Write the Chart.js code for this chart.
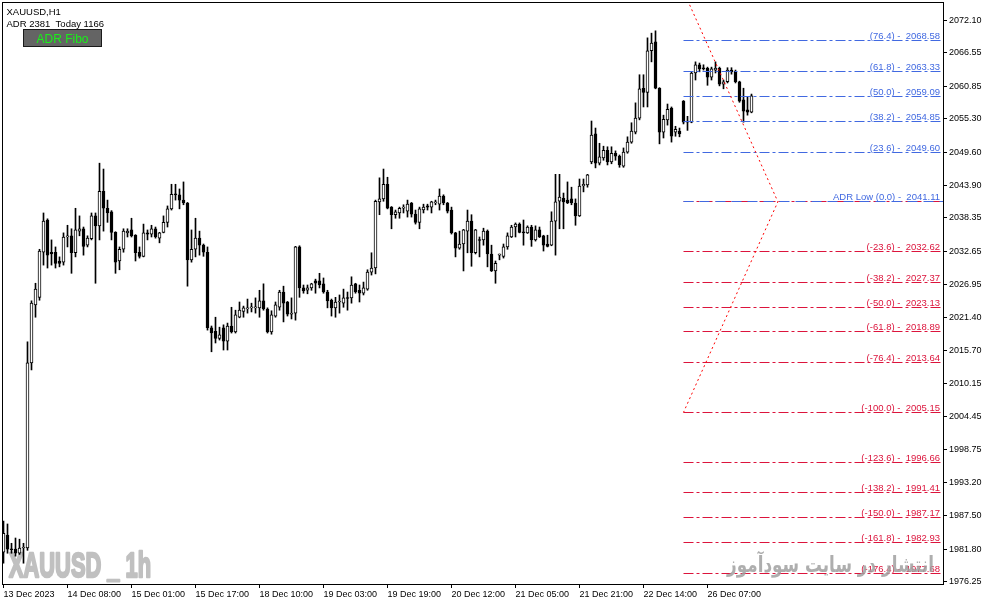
<!DOCTYPE html>
<html>
<head>
<meta charset="utf-8">
<script src="https://cdn.jsdelivr.net/npm/chart.js@4.4.1/dist/chart.umd.min.js"></script>
<style>
  html, body { margin: 0; padding: 0; background: #fff; }
</style>
</head>
<body>
<canvas id="chart" width="987" height="605"></canvas>
<script>
// XAUUSD H1 candles, 13 Dec 2023 15:00 -> 26 Dec 2023 17:00
const opens = [
  1981.3,1984.2,1981.8,1981.8,1981.1,1982.0,1982.0,2013.6,2023.5,2024.8,
  2032.5,2038.0,2032.5,2032.5,2031.0,2030.8,2035.1,2035.3,2032.4,2036.1,
  2036.5,2033.7,2034.8,2038.7,2037.0,2042.9,2040.0,2039.4,2035.9,2031.0,
  2033.0,2035.8,2036.3,2035.4,2032.5,2031.8,2035.8,2035.6,2036.5,2034.9,
  2035.9,2037.6,2039.9,2042.4,2042.3,2041.4,2040.9,2031.2,2033.0,2034.9,
  2033.7,2032.5,2019.6,2019.0,2017.8,2019.6,2017.3,2019.9,2018.9,2021.4,
  2022.4,2022.8,2023.0,2023.0,2023.0,2024.2,2022.8,2018.9,2021.6,2023.1,
  2025.7,2024.0,2021.9,2022.1,2033.4,2026.4,2026.0,2026.4,2027.6,2027.6,
  2027.1,2025.7,2024.3,2023.0,2024.0,2023.8,2024.7,2024.7,2027.1,2026.0,
  2025.5,2026.2,2029.1,2029.8,2041.1,2041.6,2044.1,2040.2,2038.9,2039.2,
  2040.0,2039.5,2040.9,2039.0,2037.6,2039.7,2040.4,2040.2,2040.9,2040.7,
  2042.1,2040.9,2039.7,2035.8,2033.2,2033.9,2036.1,2037.8,2032.4,2034.6,
  2034.6,2036.1,2032.2,2029.3,2032.0,2031.8,2033.4,2035.1,2036.8,2037.3,
  2035.9,2035.8,2036.8,2034.6,2036.3,2035.3,2033.9,2033.7,2037.8,2041.2,
  2041.7,2041.4,2041.6,2040.9,2038.7,2043.8,2044.0,2047.9,2052.7,2047.7,
  2048.6,2049.9,2047.9,2049.4,2048.9,2047.2,2049.6,2051.3,2053.0,2055.4,
  2060.5,2059.8,2066.9,2068.4,2060.5,2053.0,2055.1,2057.1,2053.0,2053.2,
  2058.3,2054.7,2054.7,2063.1,2064.5,2063.9,2063.9,2062.4,2063.6,2063.9,
  2061.2,2061.6,2063.6,2063.4,2061.6,2058.5,2056.8,2056.4
];
const highs = [
  1986.6,1986.1,1982.8,1983.7,1983.5,1982.8,2017.2,2024.2,2027.2,2033.0,
  2039.2,2038.2,2034.6,2033.4,2031.7,2035.8,2037.1,2036.5,2040.0,2038.7,
  2036.8,2035.3,2039.2,2039.2,2047.7,2046.7,2041.4,2039.6,2036.0,2033.4,
  2036.5,2036.5,2038.3,2035.5,2033.4,2037.3,2036.3,2037.1,2036.8,2035.9,
  2038.7,2040.4,2044.1,2044.1,2043.3,2044.5,2041.0,2036.3,2038.3,2036.1,
  2033.9,2033.4,2019.9,2021.4,2019.7,2020.1,2020.4,2023.1,2022.6,2024.0,
  2023.3,2024.5,2023.8,2024.7,2026.0,2027.1,2023.0,2022.5,2024.0,2026.0,
  2026.7,2024.1,2024.7,2033.5,2033.6,2026.9,2026.9,2027.2,2027.9,2028.9,
  2028.1,2026.0,2024.5,2024.8,2025.2,2026.2,2025.7,2028.3,2027.2,2026.9,
  2027.4,2029.5,2032.4,2041.4,2045.2,2046.7,2045.3,2040.3,2039.7,2040.2,
  2040.6,2041.4,2041.0,2039.7,2040.2,2040.7,2040.7,2041.2,2041.4,2043.3,
  2042.3,2041.0,2040.2,2035.9,2036.1,2036.4,2039.7,2038.9,2036.4,2035.1,
  2036.6,2036.3,2033.7,2031.0,2032.2,2033.9,2035.8,2037.1,2037.5,2037.5,
  2038.0,2037.0,2037.1,2037.0,2036.8,2035.4,2035.4,2039.4,2045.8,2045.8,
  2042.6,2044.5,2043.6,2041.6,2045.0,2045.0,2045.8,2054.9,2053.7,2051.1,
  2050.6,2050.5,2050.5,2049.8,2049.1,2050.3,2052.2,2054.6,2058.0,2062.8,
  2062.8,2069.1,2069.9,2070.3,2060.6,2055.9,2057.8,2057.3,2054.0,2053.7,
  2058.4,2055.7,2063.3,2065.0,2064.8,2064.5,2064.1,2064.1,2065.0,2064.1,
  2061.9,2064.0,2064.0,2063.6,2061.7,2060.5,2059.0,2059.5
];
const lows = [
  1979.4,1981.1,1981.1,1980.6,1980.9,1979.4,1981.6,2012.4,2021.4,2024.3,
  2030.3,2029.8,2030.3,2029.8,2030.0,2030.3,2033.4,2028.9,2031.7,2035.3,
  2032.0,2033.4,2034.6,2027.2,2034.6,2036.1,2037.6,2034.6,2028.9,2029.5,
  2032.5,2035.1,2035.1,2031.0,2031.5,2031.7,2034.6,2035.1,2034.9,2034.1,
  2035.8,2036.8,2039.7,2041.4,2039.9,2040.6,2026.7,2030.8,2031.7,2032.0,
  2031.8,2019.2,2015.5,2017.0,2017.5,2015.8,2015.8,2018.7,2018.7,2021.3,
  2021.4,2022.1,2022.3,2022.1,2021.4,2022.6,2018.7,2018.5,2021.4,2022.6,
  2020.6,2021.6,2021.1,2020.9,2024.8,2025.5,2025.4,2026.0,2025.5,2026.4,
  2025.5,2023.0,2021.6,2021.4,2022.1,2023.1,2022.6,2023.8,2025.5,2024.0,
  2025.2,2026.0,2028.6,2028.8,2038.9,2041.2,2039.9,2036.5,2038.3,2038.3,
  2039.2,2038.5,2038.5,2037.3,2036.5,2039.2,2039.7,2039.2,2040.6,2039.7,
  2040.6,2039.2,2035.6,2031.7,2033.0,2029.3,2032.4,2030.1,2032.2,2031.7,
  2033.7,2030.0,2029.2,2027.2,2031.2,2031.5,2033.0,2035.0,2035.1,2035.8,
  2033.7,2035.7,2033.5,2034.4,2035.0,2032.7,2033.4,2033.6,2032.0,2036.5,
  2036.5,2040.8,2040.6,2037.1,2038.6,2042.8,2043.6,2047.6,2046.9,2047.4,
  2048.2,2047.4,2047.6,2048.2,2047.0,2047.0,2049.4,2051.1,2052.7,2055.1,
  2057.3,2057.3,2065.0,2060.4,2051.0,2052.0,2054.2,2051.3,2052.3,2052.2,
  2054.4,2053.3,2054.6,2061.9,2063.3,2063.6,2061.0,2061.9,2063.1,2060.9,
  2060.4,2061.4,2062.9,2061.4,2058.1,2054.7,2055.9,2056.3
];
const closes = [
  1984.5,1981.8,1981.7,1981.1,1982.0,1982.1,2013.6,2023.8,2026.2,2032.7,
  2037.8,2032.0,2032.2,2030.6,2030.6,2035.1,2035.3,2032.4,2036.3,2036.5,
  2033.5,2034.9,2038.7,2037.0,2042.9,2040.0,2039.2,2035.9,2030.8,2033.0,
  2036.1,2036.1,2035.3,2032.4,2031.8,2035.8,2035.6,2036.5,2035.1,2035.8,
  2037.6,2039.9,2042.4,2042.3,2041.4,2040.9,2031.2,2033.0,2034.9,2033.7,
  2032.5,2019.6,2018.7,2017.8,2018.4,2017.3,2019.9,2018.9,2021.8,2022.6,
  2023.0,2023.0,2023.1,2023.1,2024.2,2022.8,2018.9,2021.8,2023.5,2025.7,
  2023.8,2021.9,2022.1,2033.4,2026.4,2025.9,2026.4,2027.1,2027.2,2026.9,
  2025.7,2024.2,2023.0,2024.0,2024.1,2024.7,2024.6,2026.9,2025.7,2025.5,
  2026.4,2029.1,2029.8,2041.2,2041.6,2044.1,2040.0,2038.9,2039.4,2040.0,
  2040.2,2040.7,2039.0,2037.6,2039.9,2040.2,2040.2,2041.1,2041.1,2042.1,
  2040.9,2039.5,2035.8,2033.2,2033.9,2036.3,2037.8,2032.4,2036.3,2034.5,
  2036.1,2032.2,2029.3,2030.6,2032.1,2033.4,2035.3,2036.8,2037.3,2035.9,
  2035.8,2036.8,2034.6,2036.3,2035.1,2033.7,2033.5,2037.8,2041.1,2041.9,
  2041.1,2040.9,2040.9,2038.7,2043.8,2044.1,2045.7,2052.5,2047.7,2048.8,
  2049.9,2047.9,2049.4,2048.9,2047.4,2049.6,2051.3,2053.2,2055.4,2060.4,
  2059.8,2066.9,2068.2,2060.5,2053.0,2055.2,2056.9,2052.3,2053.5,2052.7,
  2054.7,2054.9,2063.1,2064.5,2063.8,2063.8,2062.4,2063.8,2063.9,2061.2,
  2061.6,2063.6,2063.3,2061.6,2058.3,2056.6,2056.4,2059.2
];

const timeTickBars = [0, 16, 32, 48, 64, 80, 96, 112, 128, 144, 160, 176];
const timeTickLabels = ['13 Dec 2023', '14 Dec 08:00', '15 Dec 01:00', '15 Dec 17:00', '18 Dec 10:00', '19 Dec 03:00',
  '19 Dec 19:00', '20 Dec 12:00', '21 Dec 05:00', '21 Dec 21:00', '22 Dec 14:00', '26 Dec 07:00'];
const priceTicks = [2072.10, 2066.55, 2060.85, 2055.30, 2049.60, 2043.90, 2038.35, 2032.65, 2026.95,
  2021.40, 2015.70, 2010.15, 2004.45, 1998.75, 1993.20, 1987.50, 1981.80, 1976.25];

// ADR fibo levels, drawn from the first bar of 26 Dec
const fibRatios = ['76.4', '61.8', '50.0', '38.2', '23.6', '0.0', '-23.6', '-38.2', '-50.0', '-61.8',
  '-76.4', '-100.0', '-123.6', '-138.2', '-150.0', '-161.8', '-176.4'];
const fibLevels = [2068.58, 2063.33, 2059.09, 2054.85, 2049.60, 2041.11, 2032.62, 2027.37, 2023.13, 2018.89,
  2013.64, 2005.15, 1996.66, 1991.41, 1987.17, 1982.93, 1977.68];
const fibStartBar = 170;
const zigzagBars = [170, 193.6, 170];
const zigzagPrices = [2077.07, 2041.11, 2005.15];

const xMin = -0.125, xMax = 234.875;
const yMin = 1975.85, yMax = 2075.05;
const FONT = '"Liberation Sans", Arial, sans-serif';
const BLUE = 'royalblue', RED = 'crimson';

const bars = opens.map((o, i) => i);

const datasets = [
  {
    type: 'bar', label: 'wick', order: 5, grouped: false,
    data: bars.map(i => ({ x: i, y: [lows[i], highs[i]] })),
    backgroundColor: '#000', borderWidth: 0, barThickness: 1
  },
  {
    type: 'bar', label: 'body', order: 4, grouped: false,
    data: bars.map(i => ({ x: i, y: [opens[i], closes[i]] })),
    backgroundColor: c => closes[c.dataIndex] >= opens[c.dataIndex] ? '#fff' : '#000',
    borderColor: '#000', borderWidth: 1, borderSkipped: false,
    barThickness: 3, minBarLength: 1
  }
];

fibLevels.forEach((lvl, k) => {
  const r = fibRatios[k];
  const pts = [{ x: fibStartBar, y: lvl }, { x: xMax, y: lvl }];
  if (r === '0.0') {
    datasets.push({ type: 'line', order: 3, level: lvl, data: pts, borderColor: RED, borderWidth: 1,
      borderDash: [10, 3, 3, 3], pointRadius: 0 });
    datasets.push({ type: 'line', order: 2, level: lvl, data: pts, borderColor: BLUE, borderWidth: 1,
      borderDash: [10, 6], pointRadius: 0 });
  } else {
    datasets.push({ type: 'line', order: 2, level: lvl, data: pts, borderColor: parseFloat(r) > 0 ? BLUE : RED,
      borderWidth: 1, borderDash: [10, 3, 3, 3], pointRadius: 0 });
  }
});

datasets.push({
  type: 'line', order: 1,
  data: zigzagBars.map((b, k) => ({ x: b, y: zigzagPrices[k] })),
  borderColor: '#ff0000', borderWidth: 1, borderDash: [2, 3], pointRadius: 0
});

// keep the horizontal level lines on whole pixels, like the terminal does
const crispLevels = {
  id: 'crispLevels',
  beforeDatasetDraw(chart, args) {
    const ds = chart.data.datasets[args.index];
    if (ds.level === undefined) return;
    const y = chart.scales.y.getPixelForValue(ds.level);
    chart.ctx.save();
    chart.ctx.translate(0, Math.floor(y) + 0.5 - y);
  },
  afterDatasetDraw(chart, args) {
    const ds = chart.data.datasets[args.index];
    if (ds.level === undefined) return;
    chart.ctx.restore();
  }
};

const decor = {
  id: 'decor',
  beforeDatasetsDraw(chart) {
    const ctx = chart.ctx;
    ctx.save();
    ctx.font = 'bold 35px "Liberation Sans", Arial, sans-serif';
    ctx.fillStyle = '#c0c0c0';
    ctx.strokeStyle = '#c0c0c0';
    ctx.lineWidth = 2.4;
    ctx.lineJoin = 'round';
    const t = 'XAUUSD _ 1h';
    const w = ctx.measureText(t).width;
    ctx.translate(9, 577);
    ctx.scale(142 / w, 1);
    ctx.strokeText(t, 0, 0);
    ctx.fillText(t, 0, 0);
    ctx.restore();
  },
  afterDraw(chart) {
    const ctx = chart.ctx, a = chart.chartArea, ys = chart.scales.y;
    ctx.save();
    // frame
    ctx.strokeStyle = '#000';
    ctx.lineWidth = 1;
    ctx.strokeRect(a.left - 0.5, a.top - 0.5, a.right - a.left + 1, a.bottom - a.top + 1);

    // fibo labels
    ctx.font = '9.5px ' + FONT;
    ctx.textAlign = 'right';
    ctx.textBaseline = 'alphabetic';
    fibLevels.forEach((lvl, k) => {
      const r = fibRatios[k];
      const txt = (r === '0.0' ? 'ADR Low ' : '') + '(' + r + ') -  ' + lvl.toFixed(2);
      ctx.fillStyle = parseFloat(r) >= 0 ? BLUE : RED;
      ctx.fillText(txt, a.right - 3, Math.floor(ys.getPixelForValue(lvl)) - 1.5);
    });

    // header
    ctx.textAlign = 'left';
    ctx.fillStyle = '#000';
    ctx.fillText('XAUUSD,H1', 6.5, 15);
    ctx.fillText('ADR 2381  Today 1166', 6.5, 27);

    // button
    ctx.fillStyle = '#646464';
    ctx.fillRect(23, 29, 79, 18);
    ctx.strokeStyle = '#1a1a1a';
    ctx.strokeRect(23.5, 29.5, 78, 17);
    ctx.fillStyle = '#19f019';
    ctx.font = '12px ' + FONT;
    ctx.textAlign = 'center';
    ctx.fillText('ADR Fibo', 62.5, 42.5);

    // persian watermark
    const p = 'انتشار در سایت سودآموز';
    ctx.font = 'bold 22px "DejaVu Sans", sans-serif';
    ctx.textAlign = 'left';
    const pw = ctx.measureText(p).width;
    ctx.fillStyle = 'rgba(160,160,160,0.85)';
    ctx.translate(727, 572);
    ctx.scale(207 / pw, 1);
    ctx.fillText(p, 0, 0);
    ctx.restore();
  }
};

new Chart(document.getElementById('chart'), {
  type: 'bar',
  data: { datasets },
  options: {
    responsive: false,
    devicePixelRatio: 1,
    animation: false,
    layout: { padding: { left: 3, top: 3, right: 0, bottom: 0 } },
    plugins: { legend: { display: false }, tooltip: { enabled: false } },
    scales: {
      x: {
        type: 'linear', min: xMin, max: xMax, offset: false,
        afterBuildTicks: s => { s.ticks = timeTickBars.map(v => ({ value: v })); },
        afterFit: s => { s.height = 21; s.paddingLeft = 0; s.paddingRight = 0; },
        ticks: { autoSkip: false, maxRotation: 0, align: 'start', padding: 1, color: '#000',
          font: { family: FONT, size: 9 }, callback: (v, i) => timeTickLabels[i] },
        grid: { drawOnChartArea: false, drawTicks: true, tickLength: 4, color: '#000', offset: false },
        border: { display: true, color: '#000', width: 1 }
      },
      y: {
        type: 'linear', position: 'right', min: yMin, max: yMax,
        afterBuildTicks: s => { s.ticks = priceTicks.map(v => ({ value: v })); },
        afterFit: s => { s.width = 44; s.paddingTop = 0; s.paddingBottom = 0; },
        ticks: { autoSkip: false, padding: 2, color: '#000',
          font: { family: FONT, size: 9 }, callback: v => Number(v).toFixed(2) },
        grid: { drawOnChartArea: false, drawTicks: true, tickLength: 4, color: '#000' },
        border: { display: true, color: '#000', width: 1 }
      }
    }
  },
  plugins: [crispLevels, decor]
});
</script>
</body>
</html>
